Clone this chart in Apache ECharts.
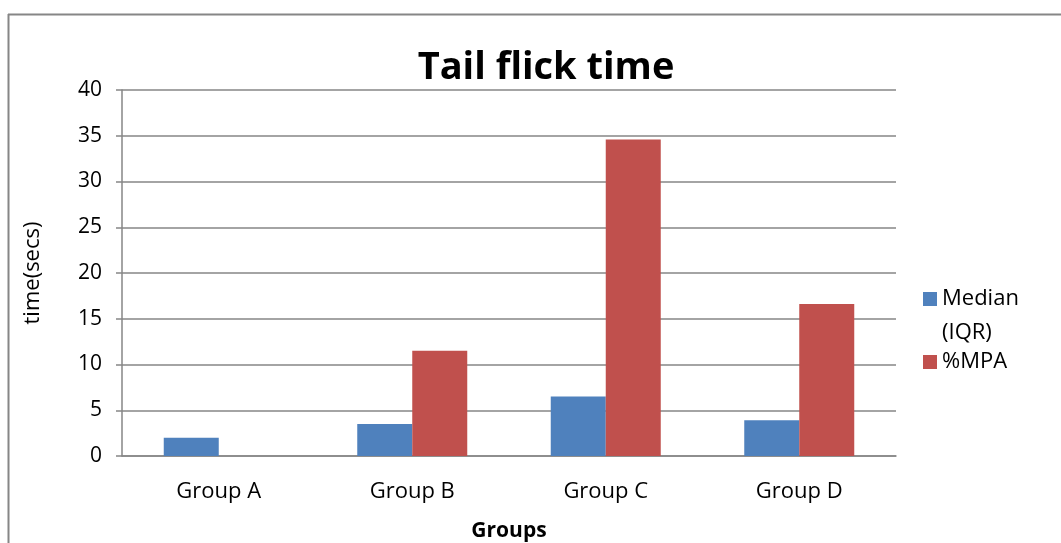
<!DOCTYPE html>
<html>
<head>
<meta charset="utf-8">
<script src="https://cdn.jsdelivr.net/npm/echarts@6/dist/echarts.min.js"></script>
<style>
html,body{margin:0;padding:0;background:#fff;}
#chart{width:1061px;height:543px;}
</style>
</head>
<body>
<div id="chart"></div>
<script>
const categories = ['Group A', 'Group B', 'Group C', 'Group D'];
const medianIQR = [2, 3.5, 6.5, 3.9];
const mpa = [0, 11.5, 34.6, 16.6];
const yTicks = [0, 5, 10, 15, 20, 25, 30, 35, 40];
const seriesNames = ['Median (IQR)', '%MPA'];

const FONT = '"Open Sans", sans-serif';
const chart = echarts.init(document.getElementById('chart'));
chart.setOption({
  backgroundColor: '#fff',
  animation: false,
  title: {
    text: 'Tail flick time',
    left: 541, top: 44, textAlign: 'center',
    textStyle: {fontFamily: FONT, fontWeight: 'bold', fontSize: 38, color: '#000'}
  },
  graphic: [
    {type: 'line', shape: {x1: 8, y1: 14.5, x2: 1061, y2: 14.5}, style: {stroke: '#868686', lineWidth: 2}},
    {type: 'line', shape: {x1: 8.5, y1: 14, x2: 8.5, y2: 543}, style: {stroke: '#868686', lineWidth: 2}}
  ],
  grid: {left: 122, right: 165, top: 90, bottom: 87, outerBoundsMode: 'none', containLabel: false},
  legend: {
    orient: 'vertical',
    left: 918, top: 243,
    itemWidth: 14, itemHeight: 14, itemGap: -5,
    icon: 'rect',
    data: seriesNames,
    formatter: function (n) { return n === seriesNames[0] ? '\nMedian\n(IQR)' : n; },
    textStyle: {fontFamily: FONT, fontSize: 22, color: '#000', lineHeight: 34}
  },
  xAxis: {
    type: 'category',
    data: categories,
    name: 'Groups', nameLocation: 'middle', nameGap: 65,
    nameTextStyle: {fontFamily: FONT, fontWeight: 'bold', fontSize: 21, color: '#000'},
    axisLine: {lineStyle: {color: '#868686', width: 1.5}},
    axisTick: {show: false},
    axisLabel: {fontFamily: FONT, fontSize: 22, color: '#000', margin: 25}
  },
  yAxis: {
    type: 'value',
    min: yTicks[0], max: yTicks[yTicks.length - 1], interval: 5,
    name: 'time(secs)', nameLocation: 'middle', nameGap: 78, nameRotate: 90,
    nameTextStyle: {fontFamily: FONT, fontSize: 22, color: '#000'},
    axisLine: {show: true, lineStyle: {color: '#868686', width: 1.5}},
    axisTick: {show: true, length: 6, lineStyle: {color: '#868686', width: 1.5}},
    axisLabel: {fontFamily: FONT, fontSize: 21, color: '#000', margin: 20},
    splitLine: {lineStyle: {color: '#868686', width: 1.5}}
  },
  series: [
    {name: seriesNames[0], type: 'bar', data: medianIQR, barWidth: 55, barGap: '0%',
     itemStyle: {color: '#4F81BD'}},
    {name: seriesNames[1], type: 'bar', data: mpa, barWidth: 55, barGap: '0%',
     itemStyle: {color: '#C0504D'}}
  ]
});
</script>
</body>
</html>
